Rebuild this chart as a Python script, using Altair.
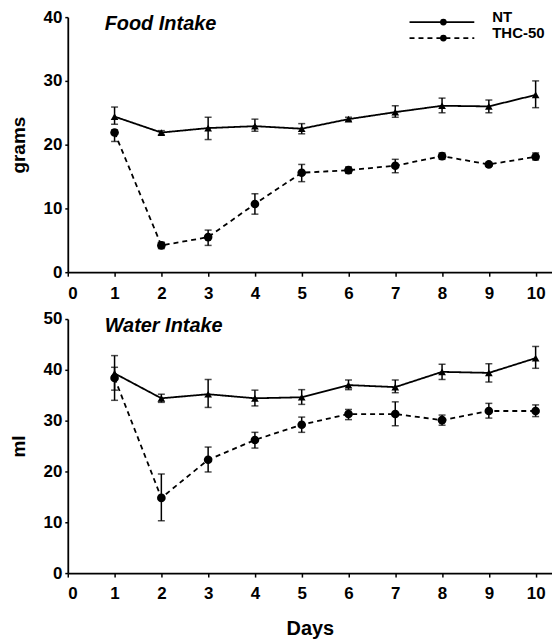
import altair as alt
import pandas as pd

days = [1, 2, 3, 4, 5, 6, 7, 8, 9, 10]

# Food intake (grams)
nt_food = [24.4, 21.9, 22.6, 22.9, 22.5, 24.0, 25.1, 26.1, 26.0, 27.8]
nt_food_lo = [23.2, 21.6, 20.8, 22.1, 21.7, 23.7, 24.3, 25.0, 25.0, 25.8]
nt_food_hi = [25.9, 22.2, 24.3, 24.0, 23.3, 24.3, 26.1, 27.3, 27.0, 30.0]
thc_food = [21.9, 4.2, 5.5, 10.7, 15.6, 16.0, 16.7, 18.2, 16.9, 18.1]
thc_food_lo = [20.5, 3.7, 4.2, 9.1, 14.2, 15.5, 15.6, 17.7, 16.6, 17.6]
thc_food_hi = [22.3, 4.7, 6.6, 12.3, 16.9, 16.5, 17.7, 18.7, 17.2, 18.7]

# Water intake (ml)
nt_water = [39.3, 34.4, 35.2, 34.4, 34.6, 37.0, 36.6, 39.6, 39.4, 42.3]
nt_water_lo = [36.0, 33.6, 32.6, 32.9, 33.2, 36.1, 35.5, 38.1, 37.6, 40.3]
nt_water_hi = [42.8, 35.2, 38.1, 36.0, 36.1, 38.0, 38.0, 41.1, 41.2, 44.6]
thc_water = [38.4, 14.8, 22.3, 26.2, 29.2, 31.3, 31.3, 30.1, 31.9, 31.9]
thc_water_lo = [34.0, 10.3, 19.9, 24.6, 27.7, 30.2, 29.0, 29.1, 30.5, 30.8]
thc_water_hi = [40.5, 19.5, 24.8, 27.7, 30.7, 32.2, 33.7, 31.1, 33.4, 33.1]

groups = ["NT", "THC-50"]
x_ticks = [0, 1, 2, 3, 4, 5, 6, 7, 8, 9, 10]

FONT = "Liberation Sans"
W = 486


def make_df(nt, nt_lo, nt_hi, thc, thc_lo, thc_hi):
    rows = []
    for i, d in enumerate(days):
        rows.append({"day": d, "group": groups[0], "v": nt[i], "lo": nt_lo[i], "hi": nt_hi[i]})
        rows.append({"day": d, "group": groups[1], "v": thc[i], "lo": thc_lo[i], "hi": thc_hi[i]})
    return pd.DataFrame(rows)


def panel(df, ymax, ytitle, label, height, show_xtitle, legend=False):
    x = alt.X("day:Q", scale=alt.Scale(domain=[0, 10.35], nice=False),
              axis=alt.Axis(values=x_ticks, format="d", grid=False,
                            title="Days" if show_xtitle else None,
                            tickSize=4, labelPadding=9, titlePadding=17,
                            titleFontSize=20))
    y = alt.Y("v:Q", scale=alt.Scale(domain=[0, ymax], nice=False),
              axis=alt.Axis(values=list(range(0, ymax + 1, 10)), grid=False, title=ytitle,
                            tickSize=3, labelPadding=3, titlePadding=15, titleFontSize=19))
    dash = alt.StrokeDash("group:N", scale=alt.Scale(domain=groups, range=[[1, 0], [5, 4]]), legend=None)
    base = alt.Chart(df)
    lines = base.mark_line(color="black", strokeWidth=1.8).encode(x=x, y=y, strokeDash=dash, detail="group:N")
    pts = base.mark_point(filled=True, color="black", opacity=1).encode(
        x=x, y=y,
        shape=alt.Shape("group:N", scale=alt.Scale(domain=groups, range=["triangle-up", "circle"]), legend=None),
        size=alt.Size("group:N", scale=alt.Scale(domain=groups, range=[60, 75]), legend=None))
    err = base.mark_rule(color="black", strokeWidth=1.5).encode(x=x, y="lo:Q", y2="hi:Q")
    cap_lo = base.mark_tick(color="black", orient="horizontal", size=7, thickness=1.5).encode(x=x, y="lo:Q")
    cap_hi = base.mark_tick(color="black", orient="horizontal", size=7, thickness=1.5).encode(x=x, y="hi:Q")
    txt = alt.Chart(pd.DataFrame({"t": [label]})).mark_text(
        align="left", baseline="middle", font=FONT, fontSize=20, fontWeight="bold",
        fontStyle="italic", color="black").encode(x=alt.value(37), y=alt.value(7), text="t:N")
    layers = [err, cap_lo, cap_hi, lines, pts, txt]
    if legend:
        leg = pd.DataFrame({"group": groups, "x1": [343, 343], "x2": [408, 408], "xm": [377, 377],
                            "yy": [5, 21], "ty": [0, 16], "tx": [426, 426]})
        lb = alt.Chart(leg)
        layers += [
            lb.mark_rule(color="black", strokeWidth=1.8).encode(
                x=alt.X("x1:Q", scale=None), x2="x2:Q", y=alt.Y("yy:Q", scale=None),
                strokeDash=alt.StrokeDash("group:N", scale=alt.Scale(domain=groups, range=[[1, 0], [4, 3]]), legend=None)),
            lb.mark_point(filled=True, color="black", opacity=1, size=45, shape="circle").encode(
                x=alt.X("xm:Q", scale=None), y=alt.Y("yy:Q", scale=None)),
            lb.mark_text(align="left", baseline="middle", font=FONT, fontSize=15, fontWeight="bold").encode(
                x=alt.X("tx:Q", scale=None), y=alt.Y("ty:Q", scale=None), text="group:N"),
        ]
    return alt.layer(*layers).properties(width=W, height=height)


food = panel(make_df(nt_food, nt_food_lo, nt_food_hi, thc_food, thc_food_lo, thc_food_hi),
             40, "grams", "Food Intake", 256, False, legend=True)
water = panel(make_df(nt_water, nt_water_lo, nt_water_hi, thc_water, thc_water_lo, thc_water_hi),
              50, "ml", "Water Intake", 255, True)

chart = alt.vconcat(food, water, spacing=9).properties(
    padding={"left": 1, "top": -1, "right": 0, "bottom": 0}
).configure_view(stroke=None).configure_axis(
    labelFont=FONT, titleFont=FONT, labelFontSize=17, labelFontWeight="bold",
    titleFontWeight="bold", labelColor="black", titleColor="black",
    domainColor="black", tickColor="black", domainWidth=1.8, tickWidth=1.5
)

chart.save("out.html", embed_options={"renderer": "svg", "actions": False})
